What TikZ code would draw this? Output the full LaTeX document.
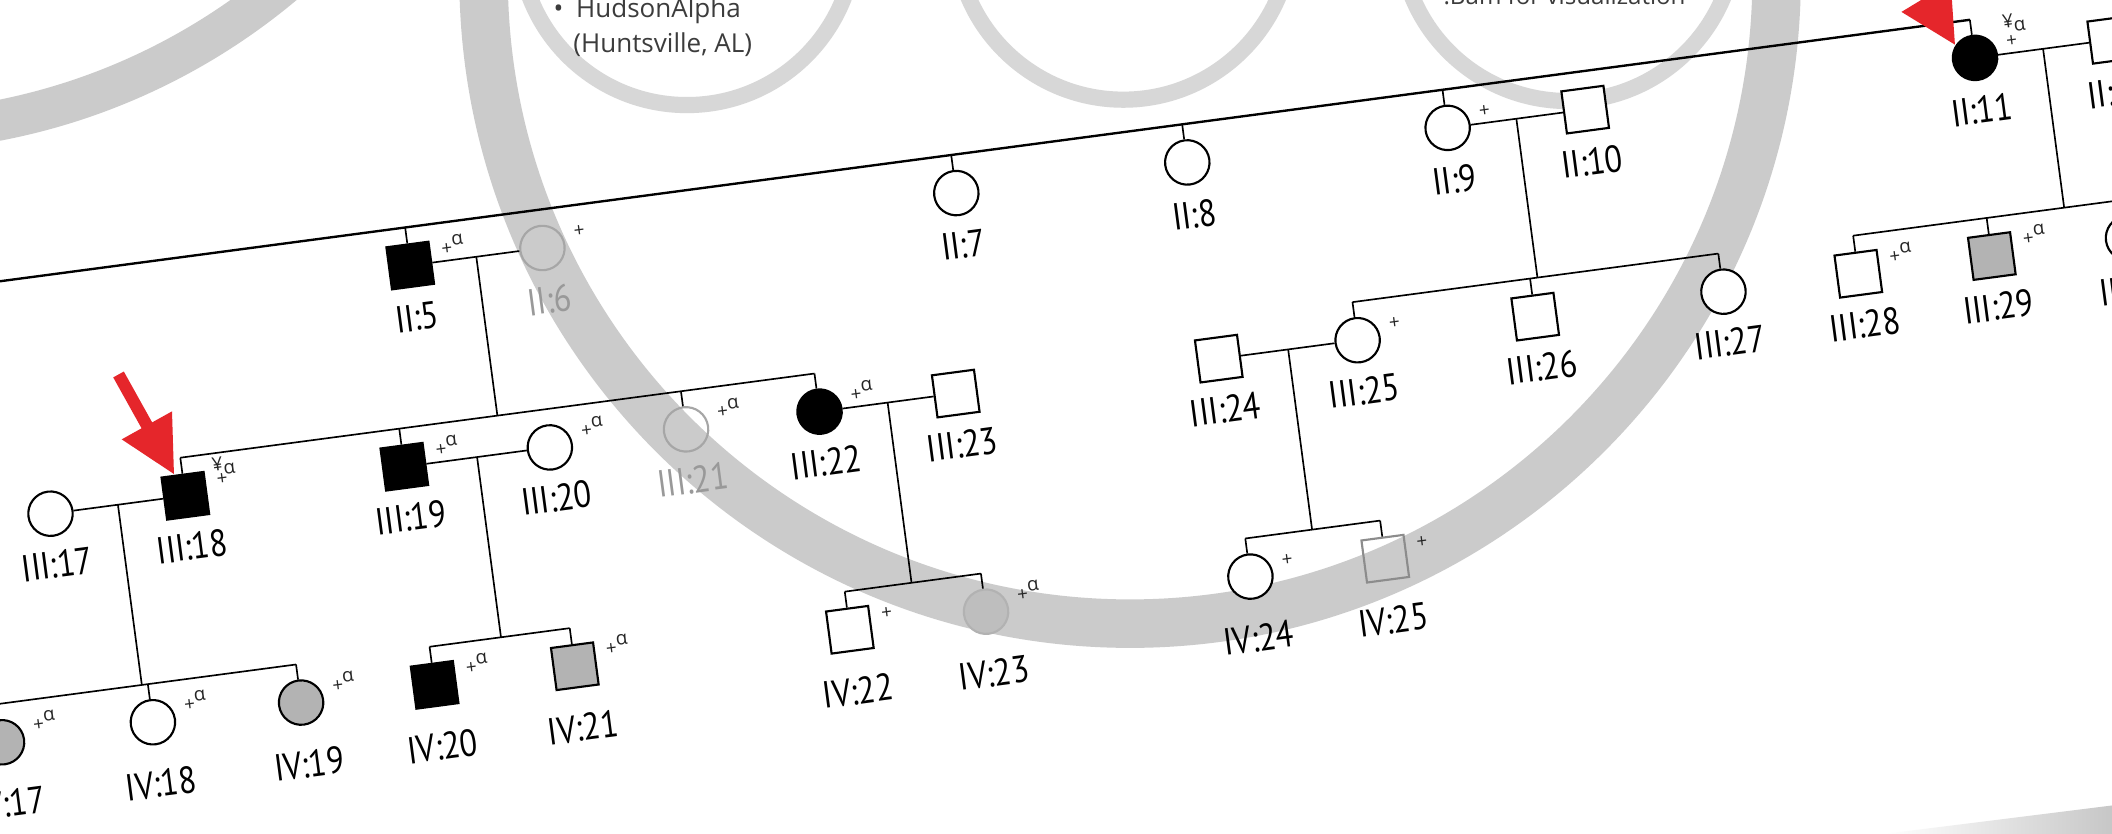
\documentclass[tikz,border=0pt]{standalone}
\usepackage{fontspec}
\setmainfont{Open Sans}
\newfontfamily\lblfont[FakeStretch=0.86]{PT Sans}
\usetikzlibrary{arrows.meta,calc,positioning}
\definecolor{ped-grey}{HTML}{B3B3B3}
\definecolor{band-grey}{HTML}{CBCBCB}
\definecolor{ring-grey}{HTML}{D7D7D7}
\definecolor{mark-red}{HTML}{E5262B}
\definecolor{poster-ink}{HTML}{3C3C3C}
\tikzset{
  person/.style={draw,fill=white,line width=0.45pt,inner sep=0pt},
  fem/.style={person,circle,minimum size=3.3mm},
  mal/.style={person,rectangle,minimum size=3.15mm},
  fem-a/.style={fem,fill=black},
  mal-a/.style={mal,fill=black},
  fem-p/.style={fem,fill=ped-grey},
  mal-p/.style={mal,fill=ped-grey},
  fem-f/.style={fem,draw=black!35,fill=none},
  fem-fp/.style={fem,draw=black!30,fill=ped-grey!85},
  mal-f/.style={mal,draw=black!45,fill=none},
  lbl/.style={font=\lblfont\fontsize{8}{9}\selectfont,inner sep=0pt},
  lbl-f/.style={lbl,text=black!40},
  ann/.style={font=\fontsize{4}{4}\selectfont,inner sep=0pt,text=black!85},
  line/.style={line width=0.35pt},
  poster/.style={font=\fontsize{5.5}{6}\selectfont,text=poster-ink,inner sep=0pt},
  redarrow/.style={draw=mark-red,line width=0.9mm,-{Triangle[length=4.2mm,width=4.0mm]}},
}
\begin{document}
\begin{tikzpicture}[x=0.1mm,y=0.1mm,>=Stealth]
  % Fotoudsnit: hele billedet
  \clip (0,0) rectangle (1568,-619);
  \fill[white] (0,0) rectangle (1568,-619);

  % Plakatens grå ringe bag stamtavlen
  \draw[band-grey,line width=3.0mm] (-91,372) circle (470);
  \draw[ring-grey,line width=1.2mm] (510,47) circle (125);
  \draw[ring-grey,line width=1.2mm] (834,51) circle (125);
  \draw[ring-grey,line width=1.2mm] (1164,50) circle (125);
  \draw[band-grey,line width=3.6mm] (839,17) circle (480);

  % Tekst fra plakaten
  \node[poster,anchor=base west] (hudson) at (427,-13) {HudsonAlpha};
  \node[poster,left=0.8mm of hudson] (hudson-b) {\textbullet};
  \node[poster,anchor=base west] (huntsville) at (425,-39) {(Huntsville, AL)};
  \node[poster,anchor=base west,font=\fontsize{5.1}{6}\selectfont] (bam) at (1071,-3.5) {.Bam for visualization};

  % Stamtavlen, drejet som på fotoet
  \begin{scope}[rotate=7.56,transform shape]
    % Generation II
    \foreach \n/\x/\s/\t/\l in {II5/276/mal-a/II:5/lbl, II6/375/fem-f/II:6/lbl-f,
        II7/685/fem/II:7/lbl, II8/858/fem/II:8/lbl, II9/1053/fem/II:9/lbl,
        II10/1156/mal/II:10/lbl, II11/1448/fem-a/II:11/lbl, II12/1550/mal/II:12/lbl} {
      \node[\s] (\n) at (\x,-235.5) {};
      \node[\l] (\n-l) at ($(\n)+(0,-39)$) {\t};
    }
    % Generation III
    \foreach \n/\x/\s/\t/\l in {III17/-13/fem/III:17/lbl, III18/88/mal-a/III:18/lbl,
        III19/252/mal-a/III:19/lbl, III20/361/fem/III:20/lbl, III21/463/fem-f/III:21/lbl-f,
        III22/563/fem-a/III:22/lbl, III23/665/mal/III:23/lbl, III24/862/mal/III:24/lbl,
        III25/966/fem/III:25/lbl, III26/1099/mal/III:26/lbl, III27/1240/fem/III:27/lbl,
        III28/1341/mal/III:28/lbl, III29/1441/mal-p/III:29/lbl, III30/1543/fem/III:30/lbl} {
      \node[\s] (\n) at (\x,-383) {};
      \node[\l] (\n-l) at ($(\n)+(0,-38)$) {\t};
    }
    % Generation IV
    \foreach \n/\x/\s/\t in {IV17/-71/fem-p/IV:17, IV18/42/fem/IV:18, IV19/153/fem-p/IV:19,
        IV20/253/mal-a/IV:20, IV21/358/mal-p/IV:21, IV22/564/mal/IV:22, IV23/666/fem-fp/IV:23,
        IV24/864/fem/IV:24, IV25/965/mal-f/IV:25} {
      \node[\s] (\n) at (\x,-546.5) {};
      \node[lbl] (\n-l) at ($(\n)+(0,-46)$) {\t};
    }

    % Punkter på søskendelinjerne
    \foreach \n in {II5,II7,II8,II9,II11,III18,III19,III21,III22,III25,III26,III27,III28,
        III29,III30,IV17,IV18,IV19,IV20,IV21,IV22,IV23,IV24,IV25}
      \coordinate (\n-t) at ($(\n)+(0,28.5)$);
    \coordinate (gen2-l) at (-60,-207);

    % Søskendelinjer og nedstigning
    \draw[line width=0.5pt] (gen2-l) -- (II11-t);
    \draw[line] (III18-t) -- (III22-t);
    \draw[line] (III25-t) -- (III27-t);
    \draw[line] (III28-t) -- (III30-t);
    \draw[line] (IV17-t) -- (IV19-t);
    \draw[line] (IV20-t) -- (IV21-t);
    \draw[line] (IV22-t) -- (IV23-t);
    \draw[line] (IV24-t) -- (IV25-t);
    \foreach \n in {II5,II7,II8,II9,II11,III18,III19,III21,III22,III25,III26,III27,III28,
        III29,III30,IV17,IV18,IV19,IV20,IV21,IV22,IV23,IV24,IV25}
      \draw[line] (\n-t) -- (\n);

    % Ægteskaber med linje ned til børnene
    \foreach \a/\b/\d in {II5/II6/119, II9/II10/119, II11/II12/119, III17/III18/135,
        III19/III20/135, III22/III23/135, III24/III25/135} {
      \draw[line] (\a) -- (\b);
      \draw[line] ($(\a)!0.5!(\b)$) -- ++(0,-\d);
    }

    % Genotype-mærker
    \foreach \n in {II5,III19,III20,III21,III22,III28,III29,
        IV17,IV18,IV19,IV20,IV21,IV23}
      \node[ann,anchor=base west] (\n-a) at ($(\n)+(24,4.5)$) {+\raisebox{0.45em}{α}};
    \foreach \n in {II6,II9,II11,III18,III25,IV22,IV24,IV25}
      \node[ann,anchor=base west] (\n-a) at ($(\n)+(24,4.5)$) {+};
    \node[ann,anchor=base west] (II11-y) at ($(II11)+(23,19)$) {¥\raisebox{-0.25em}{α}};
    \node[ann,anchor=base west] (III18-y) at ($(III18)+(22,15.5)$) {¥\raisebox{-0.25em}{α}};
  \end{scope}

  % Røde pile mod probander
  \coordinate (arr-a) at (88,-278);
  \coordinate (arr-b) at (1395,60);
  \draw[redarrow] (arr-a) -- (III18.110);
  \draw[redarrow] (arr-b) -- (II11.140);

  % Skygge nederst til højre
  \shade[left color=white,right color=black!22] (1400,-619) -- (1568,-598) -- (1568,-619) -- cycle;
\end{tikzpicture}
\end{document}
